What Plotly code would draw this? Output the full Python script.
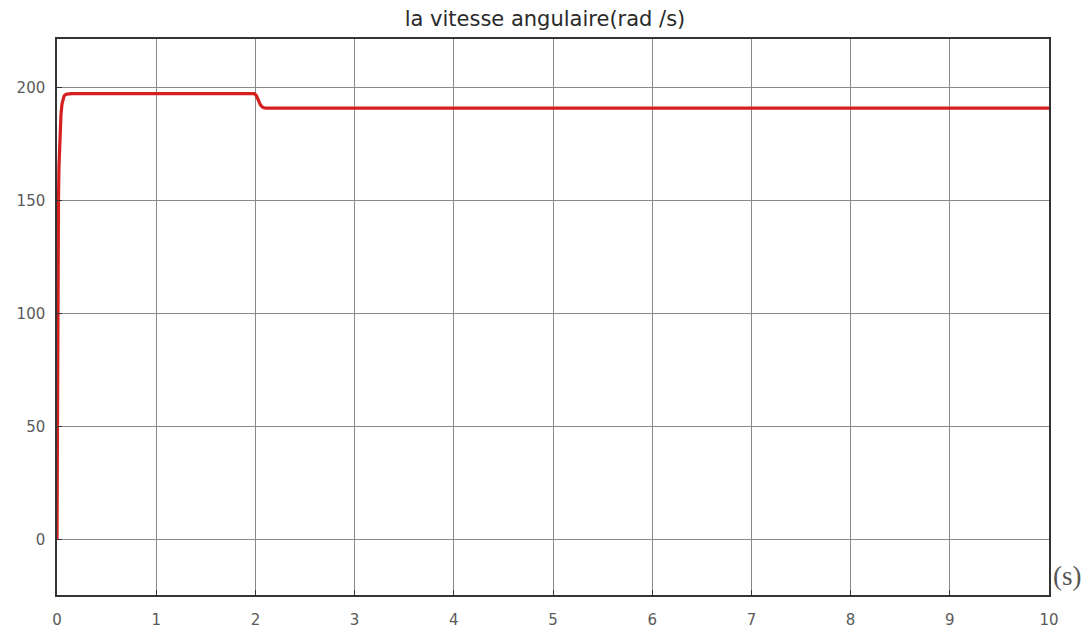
import plotly.graph_objects as go

# Angular speed response: sample times (s) and speed (rad/s)
time_s = [0.0, 0.003, 0.006, 0.01, 0.015, 0.02, 0.03, 0.04, 0.05, 0.06, 0.07,
          0.08, 0.1, 0.15, 1.99, 2.01, 2.03, 2.05, 2.07, 2.09, 2.12, 10.0]
speed_rad_s = [0.0, 45.0, 90.0, 125.0, 150.0, 165.0, 180.0, 188.0, 192.5, 194.8, 196.0,
               196.6, 197.0, 197.2, 197.2, 196.4, 194.2, 192.3, 191.3, 190.9, 190.8, 190.8]

x_ticks = [0, 1, 2, 3, 4, 5, 6, 7, 8, 9, 10]
y_ticks = [0, 50, 100, 150, 200]

fig = go.Figure()
fig.add_trace(go.Scatter(
    x=time_s, y=speed_rad_s, mode="lines",
    line=dict(color="#d41f1f", width=3.2),
    showlegend=False, hoverinfo="skip",
))

axis_common = dict(
    showgrid=True, gridcolor="#8a8a8a", gridwidth=1,
    showline=True, linecolor="#333333", linewidth=1.5, mirror=True,
    ticks="inside", ticklen=5, tickcolor="#333333",
    zeroline=False, automargin=False,
    tickfont=dict(family="DejaVu Sans, Verdana, sans-serif", size=15, color="#5a5a5a"),
)

fig.update_layout(
    width=1090, height=632,
    margin=dict(l=57, r=41, t=39, b=37),
    paper_bgcolor="white", plot_bgcolor="white",
    title=dict(text="la vitesse angulaire(rad /s)", x=0.5, xanchor="center",
               y=1 - 19 / 632, yanchor="middle",
               font=dict(family="DejaVu Sans, Verdana, sans-serif", size=21, color="#2a2a2a")),
    xaxis=dict(range=[0, 10], tickvals=x_ticks, ticklabelstandoff=10, **axis_common),
    yaxis=dict(range=[-24.6, 221.4], tickvals=y_ticks, ticklabelstandoff=7, **axis_common),
)

fig.add_annotation(
    text="(s)", xref="paper", yref="paper", x=1.0, y=0.0,
    xanchor="left", yanchor="bottom", xshift=2, yshift=2, showarrow=False,
    font=dict(family="Liberation Serif, Times New Roman, serif", size=27, color="#555555"),
)

fig.write_html("out.html")
